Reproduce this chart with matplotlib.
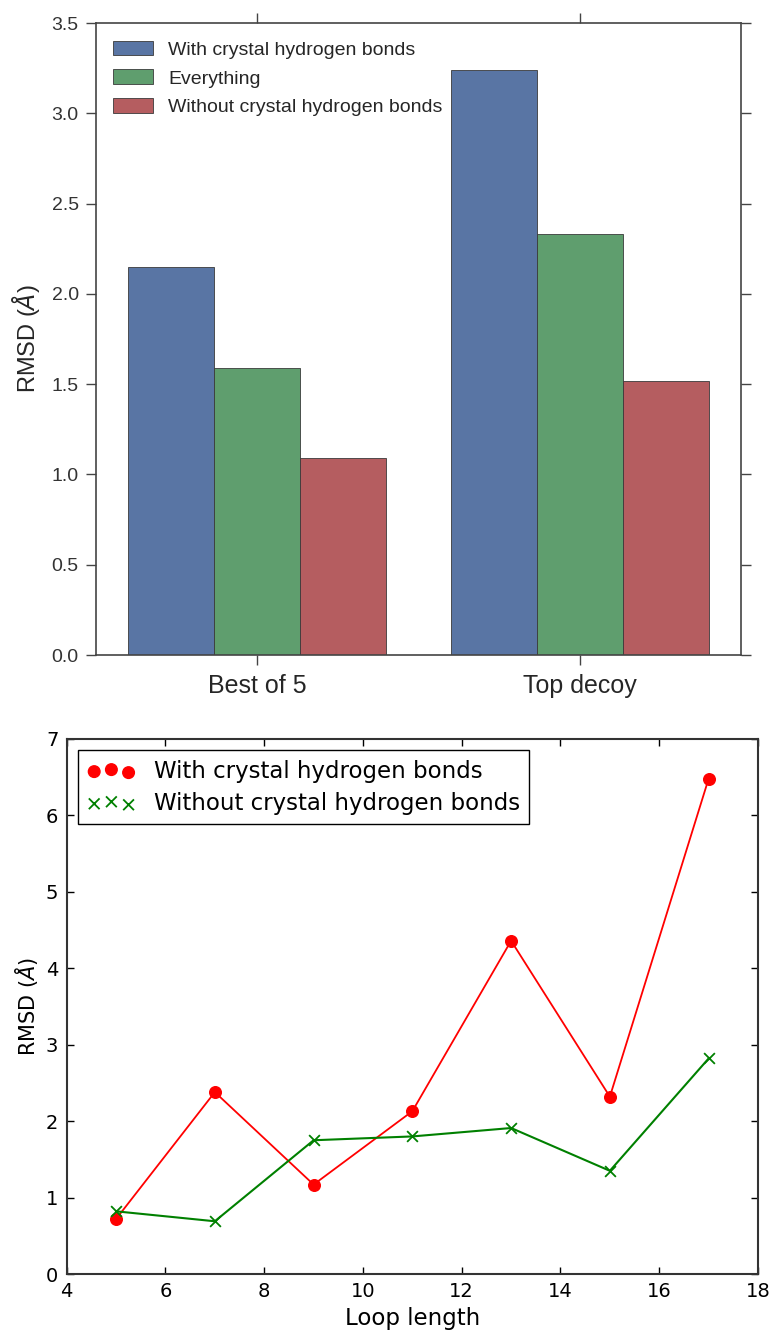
import matplotlib
matplotlib.use("Agg")
import matplotlib.pyplot as plt
import numpy as np

# ---- data: top bar chart ----
groups = ["Best of 5", "Top decoy"]
series_names = ["With crystal hydrogen bonds", "Everything", "Without crystal hydrogen bonds"]
with_hb = [2.15, 3.24]
everything = [1.59, 2.33]
without_hb = [1.09, 1.52]
bar_colors = ["#5975A4", "#5F9E6E", "#B55D60"]

# ---- data: bottom line chart ----
loop_length = [5, 7, 9, 11, 13, 15, 17]
rmsd_with = [0.72, 2.38, 1.17, 2.13, 4.36, 2.32, 6.48]
rmsd_without = [0.82, 0.69, 1.75, 1.80, 1.91, 1.35, 2.82]

fig = plt.figure(figsize=(7.7, 13.31), dpi=100)

# ---------- top axes ----------
ax1 = fig.add_axes([95.5/770, 1-655/1331, (741-95.5)/770, (655-23)/1331])
sans = ["Liberation Sans", "DejaVu Sans"]
x = np.arange(len(groups))
w = 0.8/3
for i, (vals, name, c) in enumerate(zip([with_hb, everything, without_hb], series_names, bar_colors)):
    ax1.bar(x - 0.4 + w*i, vals, width=w, align="edge", color=c, edgecolor="#3a3a3a",
            linewidth=0.6, label=name)
ax1.set_xlim(-0.5, 1.5)
ax1.set_ylim(0, 3.5)
ax1.set_yticks(np.arange(0, 3.51, 0.5))
ax1.set_yticklabels([f"{v:.1f}" for v in np.arange(0, 3.51, 0.5)], family=sans, fontsize=14, color="#333333")
ax1.set_xticks(x)
ax1.set_xticklabels(groups, family=sans, fontsize=18, color="#262626")
ax1.tick_params(direction="out", top=True, right=True, length=7, width=1, color="#444444")
ax1.tick_params(axis="x", pad=7)
ax1.tick_params(axis="y", pad=5)
for s in ax1.spines.values():
    s.set_color("#444444")
    s.set_linewidth(1.2)
ax1.set_ylabel(r"RMSD ($\AA$)", fontsize=17, family=sans, color="#262626", labelpad=7)
leg1 = ax1.legend(loc="upper left", frameon=False, prop={"family": sans, "size": 14},
                  handlelength=2.05, handleheight=0.8, borderaxespad=0.5, labelspacing=0.55,
                  handletextpad=0.8)
for t in leg1.get_texts():
    t.set_color("#262626")

# ---------- bottom axes ----------
ax2 = fig.add_axes([66.7/770, 1-1274/1331, (758-66.7)/770, (1274-739)/1331])
ax2.plot(loop_length, rmsd_with, color="red", linewidth=1.3, zorder=2)
ax2.plot(loop_length, rmsd_without, color="green", linewidth=1.5, zorder=2)
ax2.scatter(loop_length, rmsd_with, s=70, color="red", marker="o", label="With crystal hydrogen bonds", zorder=3)
ax2.scatter(loop_length, rmsd_without, s=60, color="green", marker="x", linewidths=1.3,
            label="Without crystal hydrogen bonds", zorder=3)
ax2.set_xlim(4, 18)
ax2.set_ylim(0, 7)
ax2.set_xticks(np.arange(4, 19, 2))
ax2.set_yticks(np.arange(0, 8, 1))
ax2.tick_params(direction="in", top=True, right=True, length=5, width=1, labelsize=14, pad=6)
for s in ax2.spines.values():
    s.set_color("#333333")
    s.set_linewidth(1.5)
ax2.set_xlabel("Loop length", fontsize=16.5)
ax2.set_ylabel(r"RMSD ($\AA$)", fontsize=15)
leg2 = ax2.legend(loc="upper left", scatterpoints=3, scatteryoffsets=[0.375, 0.5, 0.3125],
                  fancybox=False, framealpha=1, edgecolor="black", fontsize=16.5,
                  borderaxespad=0.5, handletextpad=0.8, handlelength=2.1, labelspacing=0.4)
leg2.get_frame().set_linewidth(1.0)

fig.savefig("out.png", dpi=100)
